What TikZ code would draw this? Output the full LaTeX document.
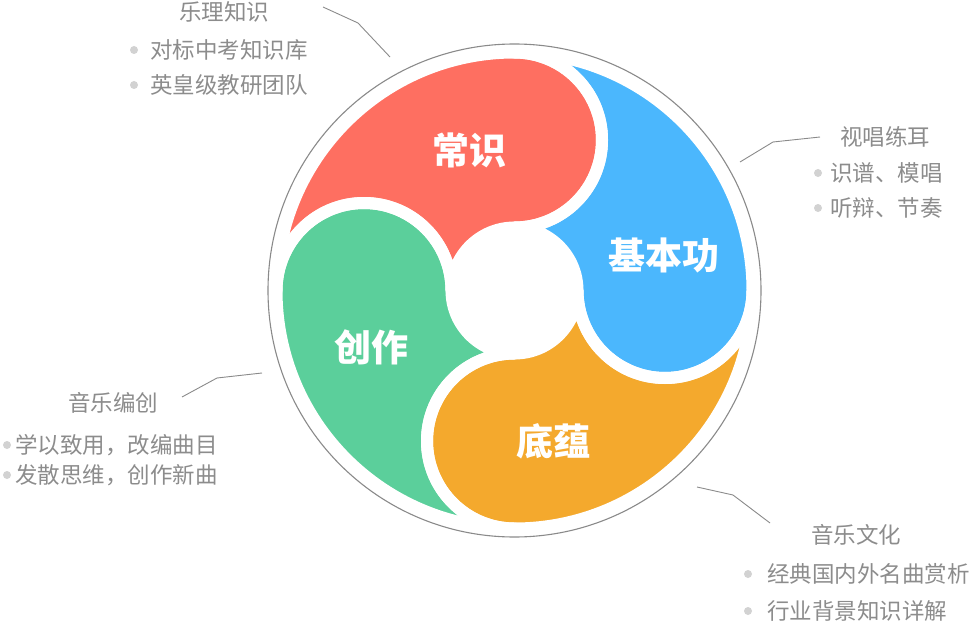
\documentclass[tikz,border=0pt]{standalone}
\usepackage{fontspec}
\newfontfamily\cjk{Noto Sans CJK SC}
\definecolor{cred}{HTML}{FE6F61}
\definecolor{cblue}{HTML}{4BB7FD}
\definecolor{cgreen}{HTML}{5BCF9B}
\definecolor{corange}{HTML}{F4A92D}
\definecolor{txtgray}{HTML}{8C8C8C}
\definecolor{dotgray}{HTML}{D2D2D2}
\definecolor{linegray}{HTML}{8A8A8A}
\begin{document}
\begin{tikzpicture}[x=1pt,y=1pt,
  petallabel/.style={inner sep=0pt, text=white, font=\cjk\bfseries\fontsize{37}{37}\selectfont},
  headlabel/.style={inner sep=0pt, text=txtgray, font=\cjk\fontsize{22.5}{22.5}\selectfont},
  itemlabel/.style={inner sep=0pt, anchor=west, text=txtgray, font=\cjk\fontsize{22.5}{22.5}\selectfont},
  leader/.style={draw=linegray, line width=0.9pt},
  dotbullet/.style={fill=dotgray}]
\useasboundingbox (0,0) rectangle (972,-623);
% outer ring
\draw[linegray, line width=1.1pt] (514.5,-290.5) circle (246.5);
% petals
\begin{scope}[shift={(514.5,-290.5)}]
\foreach \t/\c in {90/cred,0/cblue,270/corange,180/cgreen}{
  \fill[\c] (\t:238) arc[start angle=\t, end angle=\t+90, radius=238]
     arc[start angle=\t+90, end angle=\t-90, radius=87.5]
     arc[start angle=\t+90, end angle=\t, radius=63]
     arc[start angle=\t-180, end angle=\t, radius=87.5] -- cycle;
}
\foreach \t in {90,0,270,180}{
  \draw[white, line width=12pt, line join=round] (\t:238) arc[start angle=\t, end angle=\t+90, radius=238]
     arc[start angle=\t+90, end angle=\t-90, radius=87.5]
     arc[start angle=\t+90, end angle=\t, radius=63]
     arc[start angle=\t-180, end angle=\t, radius=87.5] -- cycle;
}
\end{scope}
% petal labels
\node[petallabel] (p1) at (469,-150) {常识};
\node[petallabel] (p2) at (664,-255) {基本功};
\node[petallabel] (p3) at (371,-347) {创作};
\node[petallabel] (p4) at (553,-441) {底蕴};
% top-left group
\node[headlabel] (h1) at (224,-12) {乐理知识};
\node[itemlabel] (i1a) at (150,-50) {对标中考知识库};
\node[itemlabel] (i1b) at (150,-85) {英皇级教研团队};
\fill[dotbullet] ([xshift=-16pt]i1a.west) circle (4);
\fill[dotbullet] ([xshift=-16pt]i1b.west) circle (4);
\coordinate (l1a) at (323,-7);
\coordinate (l1b) at (358,-23);
\coordinate (l1c) at (390,-57);
\draw[leader] (l1a) -- (l1b) -- (l1c);
% top-right group
\node[headlabel] (h2) at (885,-137) {视唱练耳};
\node[itemlabel] (i2a) at (830,-173) {识谱、模唱};
\node[itemlabel] (i2b) at (830,-208) {听辩、节奏};
\fill[dotbullet] ([xshift=-12pt]i2a.west) circle (4);
\fill[dotbullet] ([xshift=-12pt]i2b.west) circle (4);
\coordinate (l2a) at (820,-137);
\coordinate (l2b) at (773,-142);
\coordinate (l2c) at (740,-162);
\draw[leader] (l2a) -- (l2b) -- (l2c);
% left group
\node[headlabel] (h3) at (113,-403) {音乐编创};
\node[itemlabel] (i3a) at (15,-445) {学以致用，改编曲目};
\node[itemlabel] (i3b) at (15,-475) {发散思维，创作新曲};
\fill[dotbullet] ([xshift=-8pt]i3a.west) circle (4);
\fill[dotbullet] ([xshift=-8pt]i3b.west) circle (4);
\coordinate (l3a) at (182,-397);
\coordinate (l3b) at (217,-378);
\coordinate (l3c) at (262,-373);
\draw[leader] (l3a) -- (l3b) -- (l3c);
% bottom-right group
\node[headlabel] (h4) at (856,-535) {音乐文化};
\node[itemlabel] (i4a) at (767,-574) {经典国内外名曲赏析};
\node[itemlabel] (i4b) at (767,-611) {行业背景知识详解};
\fill[dotbullet] ([xshift=-19pt]i4a.west) circle (4);
\fill[dotbullet] ([xshift=-19pt]i4b.west) circle (4);
\coordinate (l4a) at (697,-487);
\coordinate (l4b) at (733,-495);
\coordinate (l4c) at (770,-523);
\draw[leader] (l4a) -- (l4b) -- (l4c);
\end{tikzpicture}
\end{document}
